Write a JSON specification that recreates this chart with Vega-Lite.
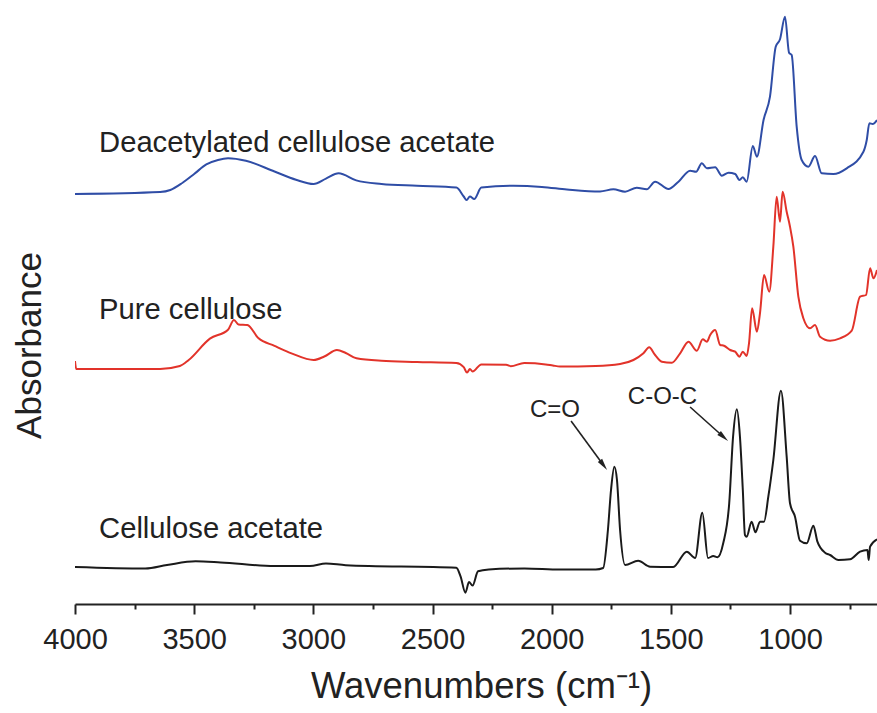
{
  "$schema": "https://vega.github.io/schema/vega-lite/v6.json",
  "width": 802,
  "height": 604,
  "autosize": {"type": "none"},
  "padding": {"left": 75, "top": 0, "right": 0, "bottom": 109},
  "background": "white",
  "config": {"view": {"stroke": null}},
  "datasets": {
    "spectra": [
      {"s":"D","w":4000,"a":410},{"s":"D","w":3643,"a":412},{"s":"D","w":3600,"a":414},{"s":"D","w":3550,"a":421},{"s":"D","w":3500,"a":430},{"s":"D","w":3449,"a":439.6},{"s":"D","w":3400,"a":444},{"s":"D","w":3358,"a":445.7},{"s":"D","w":3283,"a":443.2},{"s":"D","w":3163,"a":432.5},{"s":"D","w":3073,"a":424.3},{"s":"D","w":2999,"a":420},{"s":"D","w":2947,"a":425.4},{"s":"D","w":2894,"a":430.7},{"s":"D","w":2820,"a":423.6},{"s":"D","w":2714,"a":420},{"s":"D","w":2565,"a":418.2},{"s":"D","w":2400,"a":416.4},{"s":"D","w":2369,"a":407.5},{"s":"D","w":2357,"a":404},{"s":"D","w":2343,"a":407.5},{"s":"D","w":2325,"a":405},{"s":"D","w":2295,"a":416.4},{"s":"D","w":2160,"a":418.2},{"s":"D","w":2041,"a":417.1},{"s":"D","w":1936,"a":414.6},{"s":"D","w":1797,"a":412.5},{"s":"D","w":1741,"a":414.7},{"s":"D","w":1692,"a":412.3},{"s":"D","w":1643,"a":416.3},{"s":"D","w":1601,"a":414.7},{"s":"D","w":1566,"a":422.3},{"s":"D","w":1510,"a":415},{"s":"D","w":1468,"a":422.3},{"s":"D","w":1419,"a":433.3},{"s":"D","w":1394,"a":432.3},{"s":"D","w":1370,"a":440.7},{"s":"D","w":1349,"a":435.7},{"s":"D","w":1314,"a":436.7},{"s":"D","w":1286,"a":428.3},{"s":"D","w":1258,"a":431.3},{"s":"D","w":1230,"a":430},{"s":"D","w":1212,"a":424},{"s":"D","w":1198,"a":426.7},{"s":"D","w":1182,"a":422.3},{"s":"D","w":1156,"a":458},{"s":"D","w":1139,"a":447.3},{"s":"D","w":1111,"a":484},{"s":"D","w":1084,"a":507.3},{"s":"D","w":1060,"a":557.3},{"s":"D","w":1042,"a":564.7},{"s":"D","w":1021,"a":587.3},{"s":"D","w":1004,"a":551.3},{"s":"D","w":993,"a":549},{"s":"D","w":972,"a":477.3},{"s":"D","w":951,"a":444},{"s":"D","w":923,"a":437.3},{"s":"D","w":895,"a":448},{"s":"D","w":867,"a":430.7},{"s":"D","w":818,"a":430},{"s":"D","w":762,"a":435.7},{"s":"D","w":692,"a":452.3},{"s":"D","w":678,"a":464},{"s":"D","w":667,"a":480.7},{"s":"D","w":653,"a":480},{"s":"D","w":635,"a":484},
      {"s":"P","w":4000,"a":243},{"s":"P","w":3995,"a":235},{"s":"P","w":3643,"a":235},{"s":"P","w":3560,"a":238},{"s":"P","w":3523,"a":244},{"s":"P","w":3434,"a":265.4},{"s":"P","w":3358,"a":274.3},{"s":"P","w":3333,"a":284},{"s":"P","w":3314,"a":279.6},{"s":"P","w":3277,"a":279},{"s":"P","w":3231,"a":266},{"s":"P","w":3163,"a":258.2},{"s":"P","w":3089,"a":250.4},{"s":"P","w":2999,"a":244},{"s":"P","w":2954,"a":247.5},{"s":"P","w":2901,"a":254},{"s":"P","w":2864,"a":251},{"s":"P","w":2819,"a":245.7},{"s":"P","w":2714,"a":243.2},{"s":"P","w":2565,"a":242.1},{"s":"P","w":2400,"a":241},{"s":"P","w":2369,"a":236.8},{"s":"P","w":2355,"a":231.4},{"s":"P","w":2343,"a":235},{"s":"P","w":2332,"a":232.5},{"s":"P","w":2295,"a":239.6},{"s":"P","w":2191,"a":239.3},{"s":"P","w":2172,"a":237.8},{"s":"P","w":2115,"a":241},{"s":"P","w":2025,"a":239.6},{"s":"P","w":1995,"a":238.5},{"s":"P","w":1965,"a":237.5},{"s":"P","w":1815,"a":238},{"s":"P","w":1713,"a":240},{"s":"P","w":1657,"a":244},{"s":"P","w":1615,"a":250.7},{"s":"P","w":1591,"a":256.7},{"s":"P","w":1566,"a":249},{"s":"P","w":1538,"a":242.3},{"s":"P","w":1496,"a":241.3},{"s":"P","w":1461,"a":250.7},{"s":"P","w":1426,"a":262.3},{"s":"P","w":1391,"a":253.3},{"s":"P","w":1366,"a":264.7},{"s":"P","w":1349,"a":262.3},{"s":"P","w":1335,"a":269},{"s":"P","w":1314,"a":274},{"s":"P","w":1293,"a":259},{"s":"P","w":1277,"a":258.3},{"s":"P","w":1251,"a":254},{"s":"P","w":1230,"a":252.3},{"s":"P","w":1212,"a":247.3},{"s":"P","w":1198,"a":252.3},{"s":"P","w":1182,"a":248},{"s":"P","w":1172,"a":260.7},{"s":"P","w":1159,"a":295.7},{"s":"P","w":1139,"a":272.3},{"s":"P","w":1126,"a":290.7},{"s":"P","w":1109,"a":329},{"s":"P","w":1087,"a":312.3},{"s":"P","w":1070,"a":357.3},{"s":"P","w":1056,"a":407.3},{"s":"P","w":1042,"a":382.3},{"s":"P","w":1031,"a":412.3},{"s":"P","w":1014,"a":392.3},{"s":"P","w":1000,"a":377.3},{"s":"P","w":986,"a":357.3},{"s":"P","w":965,"a":307.3},{"s":"P","w":944,"a":285.7},{"s":"P","w":916,"a":275.7},{"s":"P","w":895,"a":279},{"s":"P","w":874,"a":267.3},{"s":"P","w":832,"a":263.3},{"s":"P","w":790,"a":265.7},{"s":"P","w":741,"a":273.3},{"s":"P","w":706,"a":307.3},{"s":"P","w":681,"a":309},{"s":"P","w":664,"a":335.7},{"s":"P","w":650,"a":325.7},{"s":"P","w":635,"a":334},
      {"s":"C","w":4000,"a":37},{"s":"C","w":3705,"a":35.5},{"s":"C","w":3614,"a":39},{"s":"C","w":3494,"a":42.7},{"s":"C","w":3389,"a":41.6},{"s":"C","w":3163,"a":38},{"s":"C","w":3014,"a":38},{"s":"C","w":2947,"a":40.6},{"s":"C","w":2864,"a":38.8},{"s":"C","w":2400,"a":36.3},{"s":"C","w":2382,"a":27.4},{"s":"C","w":2362,"a":11.3},{"s":"C","w":2347,"a":22},{"s":"C","w":2332,"a":18.4},{"s":"C","w":2309,"a":32.7},{"s":"C","w":2264,"a":34.5},{"s":"C","w":2114,"a":35.6},{"s":"C","w":1965,"a":34.5},{"s":"C","w":1815,"a":34.5},{"s":"C","w":1784,"a":36},{"s":"C","w":1764,"a":74},{"s":"C","w":1751,"a":114},{"s":"C","w":1737,"a":137.3},{"s":"C","w":1726,"a":124},{"s":"C","w":1713,"a":74},{"s":"C","w":1692,"a":39},{"s":"C","w":1637,"a":43.3},{"s":"C","w":1587,"a":37.3},{"s":"C","w":1490,"a":37},{"s":"C","w":1433,"a":52.3},{"s":"C","w":1398,"a":46},{"s":"C","w":1368,"a":91.3},{"s":"C","w":1344,"a":46},{"s":"C","w":1322,"a":48},{"s":"C","w":1304,"a":46.7},{"s":"C","w":1280,"a":61},{"s":"C","w":1255,"a":101},{"s":"C","w":1239,"a":167},{"s":"C","w":1223,"a":194.7},{"s":"C","w":1210,"a":167.3},{"s":"C","w":1198,"a":114},{"s":"C","w":1189,"a":69},{"s":"C","w":1182,"a":67.3},{"s":"C","w":1161,"a":82.3},{"s":"C","w":1145,"a":71.7},{"s":"C","w":1126,"a":82.3},{"s":"C","w":1109,"a":82.3},{"s":"C","w":1091,"a":107.3},{"s":"C","w":1070,"a":144},{"s":"C","w":1038,"a":213.3},{"s":"C","w":1014,"a":147.3},{"s":"C","w":1000,"a":100.7},{"s":"C","w":979,"a":87.3},{"s":"C","w":958,"a":63.3},{"s":"C","w":930,"a":60.7},{"s":"C","w":902,"a":78.3},{"s":"C","w":885,"a":62.3},{"s":"C","w":853,"a":51.3},{"s":"C","w":832,"a":49},{"s":"C","w":797,"a":44},{"s":"C","w":748,"a":44.7},{"s":"C","w":706,"a":52.3},{"s":"C","w":675,"a":54},{"s":"C","w":670,"a":44},{"s":"C","w":664,"a":57.3},{"s":"C","w":635,"a":64.7}
    ],
    "names": [
      {"w":3899,"a":452,"t":"Deacetylated cellulose acetate"},
      {"w":3899,"a":285,"t":"Pure cellulose"},
      {"w":3899,"a":66,"t":"Cellulose acetate"}
    ],
    "peaks": [
      {"w":1986,"a":187,"t":"C=O"},
      {"w":1535,"a":200.5,"t":"C-O-C"}
    ],
    "arrows": [
      {"id":"C=O","w":1918.6,"a":183,"w2":1782.4,"a2":138.8},
      {"id":"C-O-C","w":1419.2,"a":197,"w2":1278.6,"a2":167}
    ]
  },
  "encoding": {
    "x": {
      "field": "w",
      "type": "quantitative",
      "scale": {"domain": [4000, 635], "nice": false, "zero": false},
      "axis": {
        "values": [4000,3750,3500,3250,3000,2750,2500,2250,2000,1750,1500,1250,1000,750],
        "format": "d",
        "labelExpr": "datum.value % 500 === 0 ? datum.label : ''",
        "tickSize": {"condition": {"test": "datum.value % 500 === 0", "value": 10}, "value": 5},
        "tickWidth": 2,
        "tickColor": "#222222",
        "domainWidth": 2,
        "domainColor": "#222222",
        "grid": false,
        "labelFont": "Liberation Sans",
        "labelFontSize": 29,
        "labelColor": "#222222",
        "labelPadding": 11,
        "labelFlush": false,
        "labelOverlap": false,
        "title": "Wavenumbers (cm⁻¹)",
        "titleFont": "Liberation Sans",
        "titleFontSize": 36.5,
        "titleFontWeight": "normal",
        "titleColor": "#222222",
        "titleX": 406,
        "titleY": 93,
        "titleAlign": "center",
        "titleBaseline": "alphabetic"
      }
    },
    "y": {
      "field": "a",
      "type": "quantitative",
      "scale": {"domain": [0, 604], "nice": false, "zero": false},
      "axis": {
        "title": "Absorbance",
        "domain": false,
        "ticks": false,
        "labels": false,
        "grid": false,
        "titleFont": "Liberation Sans",
        "titleFontSize": 35,
        "titleFontWeight": "normal",
        "titleColor": "#222222",
        "titleAngle": -90,
        "titleX": -46,
        "titleY": 345,
        "titleAlign": "center",
        "titleBaseline": "middle"
      }
    }
  },
  "layer": [
    {
      "data": {"name": "spectra"},
      "mark": {"type": "line", "strokeWidth": 2, "interpolate": "monotone", "clip": true},
      "encoding": {
        "color": {
          "field": "s",
          "type": "nominal",
          "scale": {"domain": ["D", "P", "C"], "range": ["#2f4da6", "#e2332a", "#1a1a1a"]},
          "legend": null
        },
        "detail": {"field": "s"}
      }
    },
    {
      "data": {"name": "names"},
      "mark": {"type": "text", "align": "left", "baseline": "alphabetic", "font": "Liberation Sans", "fontSize": 29.2, "color": "#222222"},
      "encoding": {"text": {"field": "t"}}
    },
    {
      "data": {"name": "peaks"},
      "mark": {"type": "text", "align": "center", "baseline": "alphabetic", "font": "Liberation Sans", "fontSize": 24, "color": "#222222"},
      "encoding": {"text": {"field": "t"}}
    },
    {
      "data": {"name": "arrows"},
      "mark": {"type": "rule", "strokeWidth": 1.6, "color": "#222222"},
      "encoding": {
        "x2": {"field": "w2"},
        "y2": {"field": "a2"}
      }
    },
    {
      "data": {"name": "arrows"},
      "transform": [{"filter": "datum.id === 'C=O'"}],
      "mark": {"type": "point", "shape": "M0,-1L0.45,1L-0.45,1Z", "filled": true, "size": 144, "angle": 143.7, "color": "#222222", "opacity": 1},
      "encoding": {
        "x": {"field": "w2", "type": "quantitative"},
        "y": {"field": "a2", "type": "quantitative"}
      }
    },
    {
      "data": {"name": "arrows"},
      "transform": [{"filter": "datum.id === 'C-O-C'"}],
      "mark": {"type": "point", "shape": "M0,-1L0.45,1L-0.45,1Z", "filled": true, "size": 144, "angle": 131.8, "color": "#222222", "opacity": 1},
      "encoding": {
        "x": {"field": "w2", "type": "quantitative"},
        "y": {"field": "a2", "type": "quantitative"}
      }
    }
  ]
}
